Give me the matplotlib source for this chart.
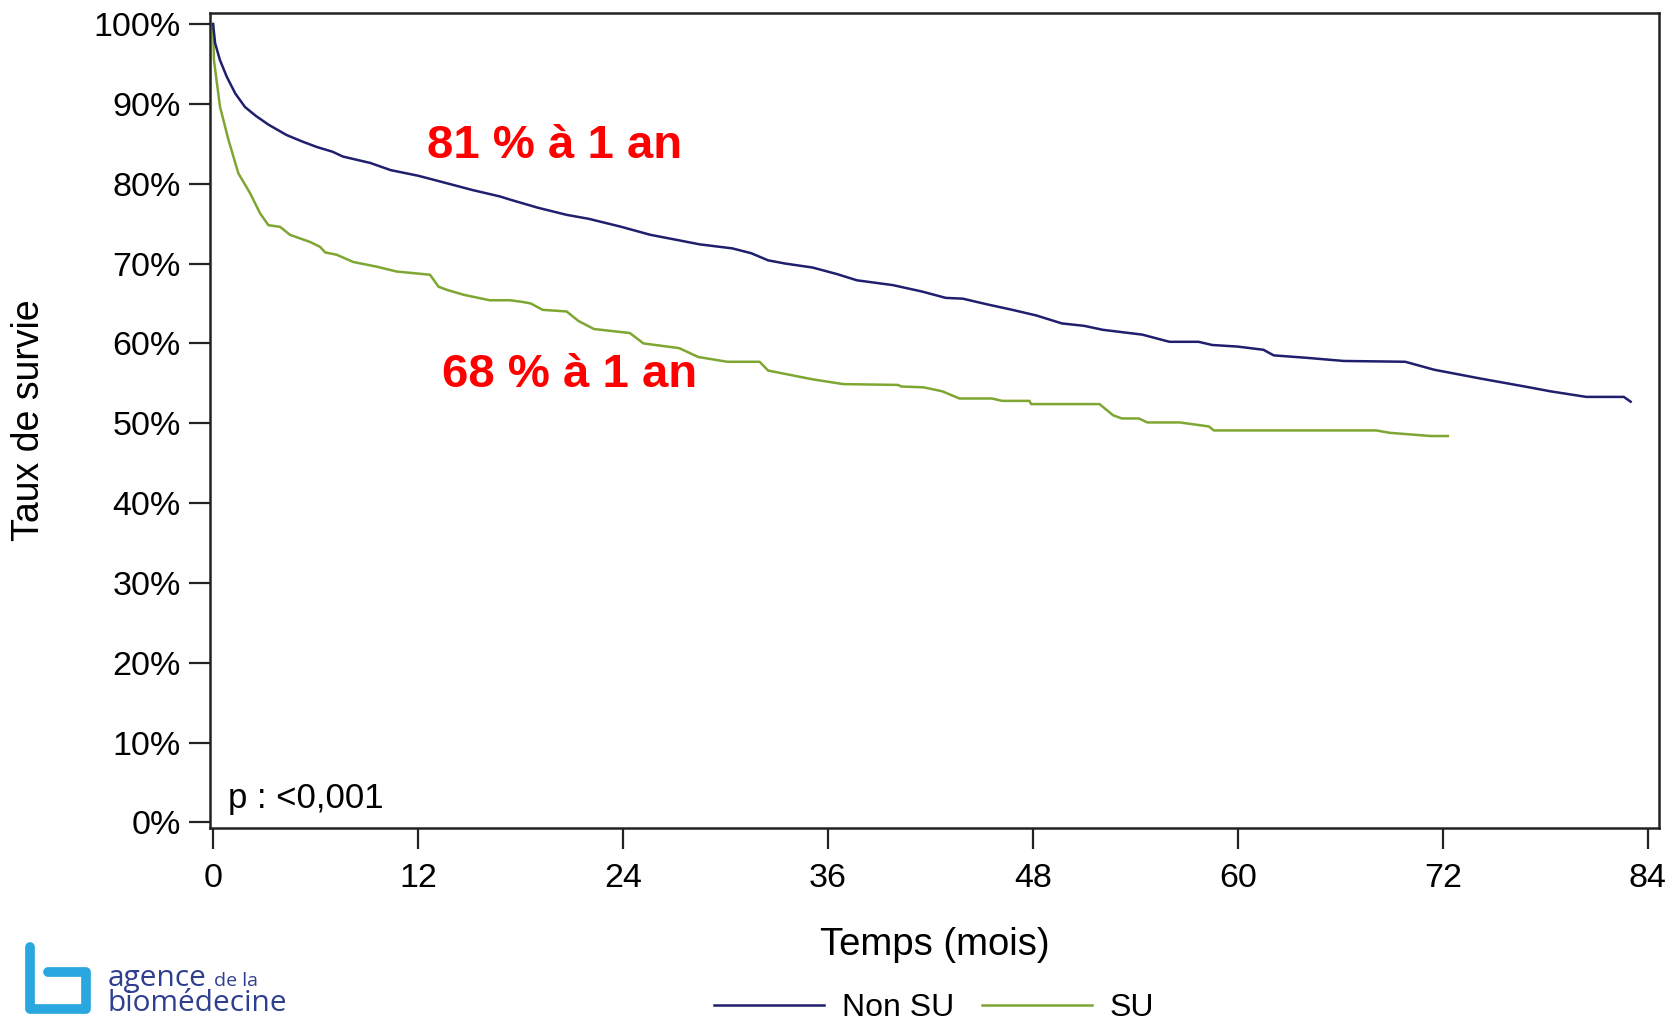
import matplotlib
matplotlib.use("Agg")
import matplotlib.pyplot as plt
from matplotlib.lines import Line2D
from matplotlib.ticker import FuncFormatter

plt.rcParams["font.family"] = ["Liberation Sans", "DejaVu Sans"]

# Kaplan-Meier survival (months, % surviving)
t_non_su = [0, 0.12, 0.4, 0.8, 1.3, 1.87, 2.5, 3.24, 4.3, 5.2, 6.07, 7.0, 7.6,
            9.2, 10.4, 12.0, 12.9, 15.2, 16.8, 17.4, 19.0, 20.7, 22.0, 23.9,
            25.6, 27.3, 28.5, 30.4, 31.5, 32.5, 33.5, 35.1, 36.5, 37.7, 39.8,
            41.5, 42.9, 43.9, 45.3, 46.8, 48.2, 49.7, 51.0, 52.1, 54.4, 56.0,
            57.7, 58.5, 60.0, 61.5, 62.1, 64.0, 66.2, 69.8, 71.5, 74.2, 76.8,
            78.3, 80.4, 82.6, 83.0]
s_non_su = [100, 97.6, 95.5, 93.4, 91.3, 89.6, 88.5, 87.4, 86.1, 85.3, 84.6,
            84.0, 83.4, 82.6, 81.7, 81.0, 80.5, 79.2, 78.4, 78.0, 77.0, 76.1,
            75.6, 74.6, 73.6, 72.9, 72.4, 71.9, 71.3, 70.4, 70.0, 69.5, 68.7,
            67.9, 67.3, 66.5, 65.7, 65.6, 64.9, 64.2, 63.5, 62.5, 62.2, 61.7,
            61.1, 60.2, 60.2, 59.8, 59.6, 59.2, 58.5, 58.2, 57.8, 57.7, 56.7,
            55.6, 54.6, 54.0, 53.3, 53.3, 52.7]

t_su = [0, 0.05, 0.2, 0.41, 0.9, 1.48, 2.17, 2.75, 3.24, 3.92, 4.5, 5.68,
        6.26, 6.56, 7.24, 8.2, 9.6, 10.75, 12.7, 13.2, 13.7, 14.65, 16.2,
        17.4, 18.1, 18.6, 19.3, 20.7, 21.4, 22.3, 24.4, 25.2, 27.3, 28.4,
        30.1, 32.0, 32.5, 35.1, 36.9, 40.1, 40.3, 41.6, 42.7, 43.7, 45.6,
        46.2, 47.8, 47.9, 51.9, 52.7, 53.2, 54.2, 54.7, 56.6, 58.3, 58.6,
        68.1, 68.9, 71.3, 72.3]
s_su = [100, 95.5, 93.0, 89.6, 85.5, 81.3, 78.8, 76.3, 74.8, 74.6, 73.6, 72.7,
        72.1, 71.4, 71.1, 70.2, 69.6, 69.0, 68.6, 67.1, 66.7, 66.1, 65.4,
        65.4, 65.2, 65.0, 64.2, 64.0, 62.8, 61.8, 61.3, 60.0, 59.4, 58.3,
        57.7, 57.7, 56.6, 55.5, 54.9, 54.8, 54.6, 54.5, 54.0, 53.1, 53.1,
        52.8, 52.8, 52.4, 52.4, 51.0, 50.6, 50.6, 50.1, 50.1, 49.6, 49.1,
        49.1, 48.8, 48.4, 48.4]

series_labels = ["Non SU", "SU"]
x_ticks = [0, 12, 24, 36, 48, 60, 72, 84]
y_ticks = [0, 10, 20, 30, 40, 50, 60, 70, 80, 90, 100]

W, H = 1669, 1021
fig = plt.figure(figsize=(W / 100, H / 100), dpi=100)
ax = fig.add_axes([210 / W, 1 - 828 / H, 1449 / W, 814.7 / H])

ax.plot(t_su, s_su, color="#7ea632", lw=1.8, label=series_labels[1])
ax.plot(t_non_su, s_non_su, color="#1f1f6e", lw=1.8, label=series_labels[0])

ax.set_xlim(-0.18, 84.66)
ax.set_ylim(-0.69, 101.34)
ax.set_xticks(x_ticks)
ax.set_yticks(y_ticks)
ax.yaxis.set_major_formatter(FuncFormatter(lambda v, _: f"{v:.0f}%"))
ax.tick_params(axis="both", direction="out", length=15, width=1.6,
               labelsize=24.5, color="#222222")
ax.tick_params(axis="y", pad=6)
ax.tick_params(axis="x", pad=10)
for sp in ax.spines.values():
    sp.set_linewidth(1.8)
    sp.set_color("#222222")

ax.set_ylabel("Taux de survie", fontsize=27, va="center")
ax.yaxis.set_label_coords(-0.125, 0.5)
ax.set_xlabel("Temps (mois)", fontsize=27.5, va="center")
ax.xaxis.set_label_coords(0.5, -0.143)

ax.text(12.5, 84.7, "81 % à 1 an", color="#ff0000", fontsize=34,
        fontweight="bold", va="center", ha="left")
ax.text(13.4, 56.0, "68 % à 1 an", color="#ff0000", fontsize=34,
        fontweight="bold", va="center", ha="left")
ax.text(0.9, 3.0, "p : <0,001", fontsize=25, va="center", ha="left")

# legend below the axes, order as in the picture
handles, labels = ax.get_legend_handles_labels()
order = [1, 0]
fig.legend([handles[i] for i in order], [labels[i] for i in order],
           loc="center", bbox_to_anchor=(934 / W, 1 - 1008 / H), ncol=2,
           frameon=False, fontsize=23, handlelength=3.44,
           handletextpad=0.56, columnspacing=0.87, borderpad=0)

# logo
px = [48, 86, 86, 30, 30]
py = [972, 972, 1009, 1009, 947]
fig.add_artist(Line2D([x / W for x in px], [1 - y / H for y in py],
                      color="#2aa7df", lw=7, solid_capstyle="round",
                      solid_joinstyle="round", transform=fig.transFigure))
logo_col = "#2f3f8f"
logo_font = ["Open Sans", "DejaVu Sans"]
fig.text(108 / W, 1 - 986 / H, "agence", fontsize=21.5, color=logo_col,
         family=logo_font, va="baseline")
fig.text(214 / W, 1 - 986 / H, "de la", fontsize=14, color=logo_col,
         family=logo_font, va="baseline")
fig.text(107 / W, 1 - 1011 / H, "biomédecine", fontsize=21.5, color=logo_col,
         family=logo_font, va="baseline")

fig.savefig("out.png", dpi=100)
